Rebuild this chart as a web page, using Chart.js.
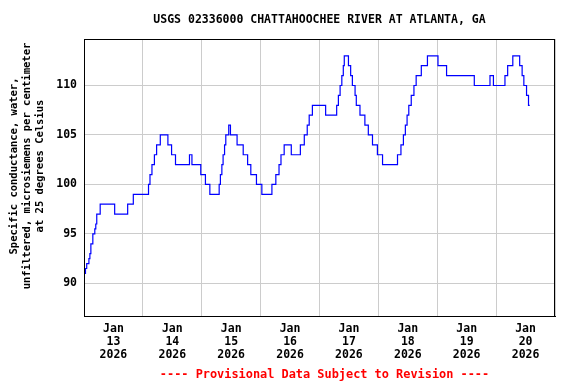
<!DOCTYPE html>
<html>
<head>
<meta charset="utf-8">
<script src="https://cdn.jsdelivr.net/npm/chart.js@4/dist/chart.umd.min.js"></script>
<style>
  html, body { margin: 0; padding: 0; background: #fff; }
  canvas { display: block; }
</style>
</head>
<body>
<canvas id="chart" width="576" height="384"></canvas>
<script>
const titleText = 'USGS 02336000 CHATTAHOOCHEE RIVER AT ATLANTA, GA';
const yTitleLines = ['Specific conductance, water,', 'unfiltered, microsiemens per centimeter', 'at 25 degrees Celsius'];
const footerText = '---- Provisional Data Subject to Revision ----';

const monthLabel = 'Jan';
const yearLabel = '2026';
const dayLabels = ['13', '14', '15', '16', '17', '18', '19', '20'];
const yTicks = [90, 95, 100, 105, 110];

// hours since Jan 13 00:00 where the reading changes, and the new reading
const hours = [0.2, 0.6, 1.1, 2.0, 2.4, 2.8, 3.6, 4.4, 4.8, 5.2, 6.6, 12.5, 17.8, 20.1,
  26.3, 26.9, 27.7, 28.7, 29.6, 31.1, 34.2, 35.7, 37.3, 43.0, 44.0, 47.6, 49.5, 51.3,
  55.1, 55.6, 56.2, 56.7, 57.3, 57.8, 59.0, 59.7, 62.4, 64.9, 66.7, 68.0, 70.3, 72.5,
  76.6, 78.2, 79.5, 80.3, 81.6, 84.5, 88.2, 89.8, 91.0, 91.8, 93.1, 98.5,
  103.0, 103.7, 104.4, 105.1, 105.7, 106.1, 107.8, 108.7, 109.4, 110.5, 111.0, 112.5,
  114.5, 115.9, 117.6, 119.6, 121.7, 127.8, 129.2, 130.2, 131.0, 131.7, 132.4, 133.4,
  134.5, 135.4, 137.5, 140.0, 144.3, 147.8, 159.1, 165.5, 166.9, 171.6, 172.7, 174.8,
  177.6, 178.6, 179.3, 180.4, 181.2, 181.7];
const values = [91, 91.5, 92, 92.5, 93, 94, 95, 95.5, 96, 97, 98, 97, 98, 99,
  100, 101, 102, 103, 104, 105, 104, 103, 102, 103, 102, 101, 100, 99,
  100, 101, 102, 103, 104, 105, 106, 105, 104, 103, 102, 101, 100, 99,
  100, 101, 102, 103, 104, 103, 104, 105, 106, 107, 108, 107,
  108, 109, 110, 111, 112, 113, 112, 111, 110, 109, 108, 107,
  106, 105, 104, 103, 102, 103, 104, 105, 106, 107, 108, 109,
  110, 111, 112, 113, 112, 111, 110, 111, 110, 111, 112, 113,
  112, 111, 110, 109, 108, 108];

const monoFont = '"DejaVu Sans Mono", "Liberation Mono", monospace';

// title, y axis title, footer and the closed plot frame
const decorations = {
  id: 'decorations',
  afterDraw(chart) {
    const ctx = chart.ctx;
    const area = chart.chartArea;
    ctx.save();
    ctx.strokeStyle = '#000';
    ctx.lineWidth = 1;
    ctx.strokeRect(Math.round(area.left) + 0.5, Math.round(area.top) + 0.5,
      Math.round(area.right - area.left) - 1, Math.round(area.bottom - area.top));

    ctx.fillStyle = '#000';
    ctx.textAlign = 'center';
    ctx.textBaseline = 'middle';
    ctx.font = 'bold 11.5px ' + monoFont;
    ctx.fillText(titleText, (area.left + area.right) / 2, 20);

    ctx.font = 'bold 10.5px ' + monoFont;
    const xs = [14, 27, 40];
    yTitleLines.forEach((line, i) => {
      ctx.save();
      ctx.translate(xs[i], 166);
      ctx.rotate(-Math.PI / 2);
      ctx.fillText(line, 0, 0);
      ctx.restore();
    });

    ctx.fillStyle = '#ff0000';
    ctx.font = 'bold 11.9px ' + monoFont;
    ctx.fillText(footerText, (area.left + area.right) / 2 + 5, 375);
    ctx.restore();
  }
};

new Chart(document.getElementById('chart'), {
  type: 'line',
  data: {
    datasets: [{
      data: hours.map((h, i) => ({ x: h, y: values[i] })),
      borderColor: '#0000ff',
      borderWidth: 1.2,
      pointRadius: 0,
      stepped: true,
      fill: false
    }]
  },
  options: {
    responsive: false,
    animation: false,
    devicePixelRatio: 1,
    layout: { padding: { top: 39, right: 21, left: 0, bottom: 0 } },
    plugins: { legend: { display: false }, tooltip: { enabled: false } },
    scales: {
      x: {
        type: 'linear',
        min: 0,
        max: 192,
        afterFit: s => { s.height = 68; },
        ticks: {
          stepSize: 12,
          autoSkip: false,
          maxRotation: 0,
          minRotation: 0,
          padding: 7,
          color: '#000',
          font: { family: monoFont, size: 11.5, weight: 'bold', lineHeight: '13px' },
          callback: v => (v % 24 === 12) ? [monthLabel, dayLabels[Math.floor(v / 24)], yearLabel] : ''
        },
        grid: {
          drawTicks: false,
          color: c => (c.tick && c.tick.value % 24 === 0) ? '#cccccc' : 'rgba(0,0,0,0)'
        },
        border: { color: '#000' }
      },
      y: {
        min: 86.7,
        max: 114.7,
        afterFit: s => { s.width = 84; },
        afterBuildTicks: s => { s.ticks = yTicks.map(v => ({ value: v })); },
        ticks: {
          padding: 7,
          color: '#000',
          font: { family: monoFont, size: 11.5, weight: 'bold' }
        },
        grid: { drawTicks: false, color: '#cccccc' },
        border: { color: '#000' }
      }
    }
  },
  plugins: [decorations]
});
</script>
</body>
</html>
